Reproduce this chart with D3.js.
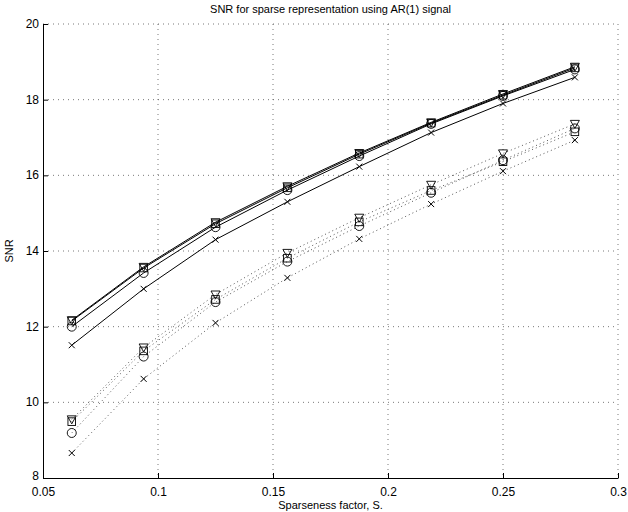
<!DOCTYPE html>
<html>
<head>
<meta charset="utf-8">
<script src="https://cdn.jsdelivr.net/npm/d3@7"></script>
<style>
  body { margin: 0; background: #fff; }
  text { font-family: "Liberation Sans", Arial, sans-serif; }
</style>
</head>
<body>
<div id="chart"></div>
<script>
// sparseness factors
const sparseness = [0.0625, 0.09375, 0.125, 0.15625, 0.1875, 0.21875, 0.25, 0.28125];

// solid curves
const solidX   = [11.51, 13.0, 14.3, 15.3, 16.23, 17.13, 17.9, 18.59];
const solidO   = [12.0, 13.42, 14.63, 15.61, 16.51, 17.36, 18.1, 18.8];
const solidSq  = [12.15, 13.55, 14.72, 15.67, 16.56, 17.38, 18.12, 18.84];
const solidTri = [12.17, 13.58, 14.76, 15.71, 16.59, 17.4, 18.15, 18.87];

// dotted curves
const dotX   = [8.66, 10.62, 12.1, 13.29, 14.32, 15.24, 16.11, 16.93];
const dotO   = [9.19, 11.21, 12.65, 13.72, 14.66, 15.54, 16.4, 17.24];
const dotSq  = [9.49, 11.36, 12.72, 13.81, 14.77, 15.6, 16.36, 17.15];
const dotTri = [9.55, 11.45, 12.85, 13.95, 14.88, 15.75, 16.58, 17.36];

const xTicks = [0.05, 0.1, 0.15, 0.2, 0.25, 0.3];
const yTicks = [8, 10, 12, 14, 16, 18, 20];

const W = 628, H = 512;
const margin = { top: 24, right: 10, bottom: 34, left: 43 };
const width = W - margin.left - margin.right;
const height = H - margin.top - margin.bottom;

const svg = d3.select("#chart").append("svg")
    .attr("width", W).attr("height", H);
const g = svg.append("g").attr("transform", `translate(${margin.left},${margin.top})`);

const x = d3.scaleLinear().domain([0.05, 0.3]).range([0, width]);
const y = d3.scaleLinear().domain([8, 20]).range([height, 0]);

// grid
g.selectAll(".gx").data(xTicks.slice(1)).enter().append("line")
    .attr("x1", d => x(d)).attr("x2", d => x(d))
    .attr("y1", 0).attr("y2", height)
    .attr("stroke", "#555").attr("stroke-width", 0.8).attr("stroke-dasharray", "1,4");
g.selectAll(".gy").data(yTicks.slice(1)).enter().append("line")
    .attr("x1", 0).attr("x2", width)
    .attr("y1", d => y(d)).attr("y2", d => y(d))
    .attr("stroke", "#555").attr("stroke-width", 0.8).attr("stroke-dasharray", "1,4");

// axes
const xAxis = d3.axisBottom(x).tickValues(xTicks).tickSizeInner(-5).tickSizeOuter(0)
    .tickFormat(d => d3.format("")(d));
const yAxis = d3.axisLeft(y).tickValues(yTicks).tickSizeInner(-5).tickSizeOuter(0);

const gx = g.append("g").attr("transform", `translate(0,${height})`).call(xAxis);
const gy = g.append("g").call(yAxis);
[gx, gy].forEach(a => {
    a.select(".domain").attr("stroke", "#000");
    a.selectAll(".tick line").attr("stroke", "#000");
    a.selectAll("text").attr("fill", "#000").style("font-size", "12px")
        .style("font-family", "'Liberation Sans', Arial, sans-serif");
});
gx.selectAll("text").attr("y", 9).attr("dy", "0.71em");
gy.selectAll("text").attr("x", -4).attr("dy", d => d === 8 ? "0.1em" : "0.3em");

const line = d3.line().x((d, i) => x(sparseness[i])).y(d => y(d));

const series = [
    { v: solidX, m: "x", dash: null },
    { v: solidO, m: "o", dash: null },
    { v: solidSq, m: "s", dash: null },
    { v: solidTri, m: "v", dash: null },
    { v: dotX, m: "x", dash: "1,3" },
    { v: dotO, m: "o", dash: "1,3" },
    { v: dotSq, m: "s", dash: "1,3" },
    { v: dotTri, m: "v", dash: "1,3" }
];

series.forEach(s => {
    g.append("path").datum(s.v)
        .attr("d", line)
        .attr("fill", "none")
        .attr("stroke", s.dash ? "#444" : "#000")
        .attr("stroke-width", s.dash ? 0.9 : 1)
        .attr("stroke-dasharray", s.dash);

    const mk = g.selectAll(null).data(s.v).enter().append("g")
        .attr("transform", (d, i) => `translate(${x(sparseness[i])},${y(d)})`);
    if (s.m === "x") {
        mk.append("path").attr("d", "M-3,-3L3,3M-3,3L3,-3")
            .attr("stroke", "#000").attr("stroke-width", 1);
    } else if (s.m === "o") {
        mk.append("circle").attr("r", 4.5)
            .attr("fill", "none").attr("stroke", "#000").attr("stroke-width", 0.9);
    } else if (s.m === "s") {
        mk.append("rect").attr("x", -3.8).attr("y", -3.8).attr("width", 7.6).attr("height", 7.6)
            .attr("fill", "none").attr("stroke", "#000").attr("stroke-width", 0.9);
    } else {
        mk.append("path").attr("d", "M-4.5,-3.5L4.5,-3.5L0,4.5Z")
            .attr("fill", "none").attr("stroke", "#000").attr("stroke-width", 0.9);
    }
});

// title and labels
svg.append("text").attr("x", margin.left + width / 2).attr("y", 13)
    .attr("text-anchor", "middle").style("font-size", "11px")
    .text("SNR for sparse representation using AR(1) signal");
svg.append("text").attr("x", margin.left + width / 2).attr("y", 509)
    .attr("text-anchor", "middle").style("font-size", "11px")
    .text("Sparseness factor, S.");
svg.append("text").attr("transform", `translate(13,${margin.top + height / 2}) rotate(-90)`)
    .attr("text-anchor", "middle").style("font-size", "11px")
    .text("SNR");
</script>
</body>
</html>
